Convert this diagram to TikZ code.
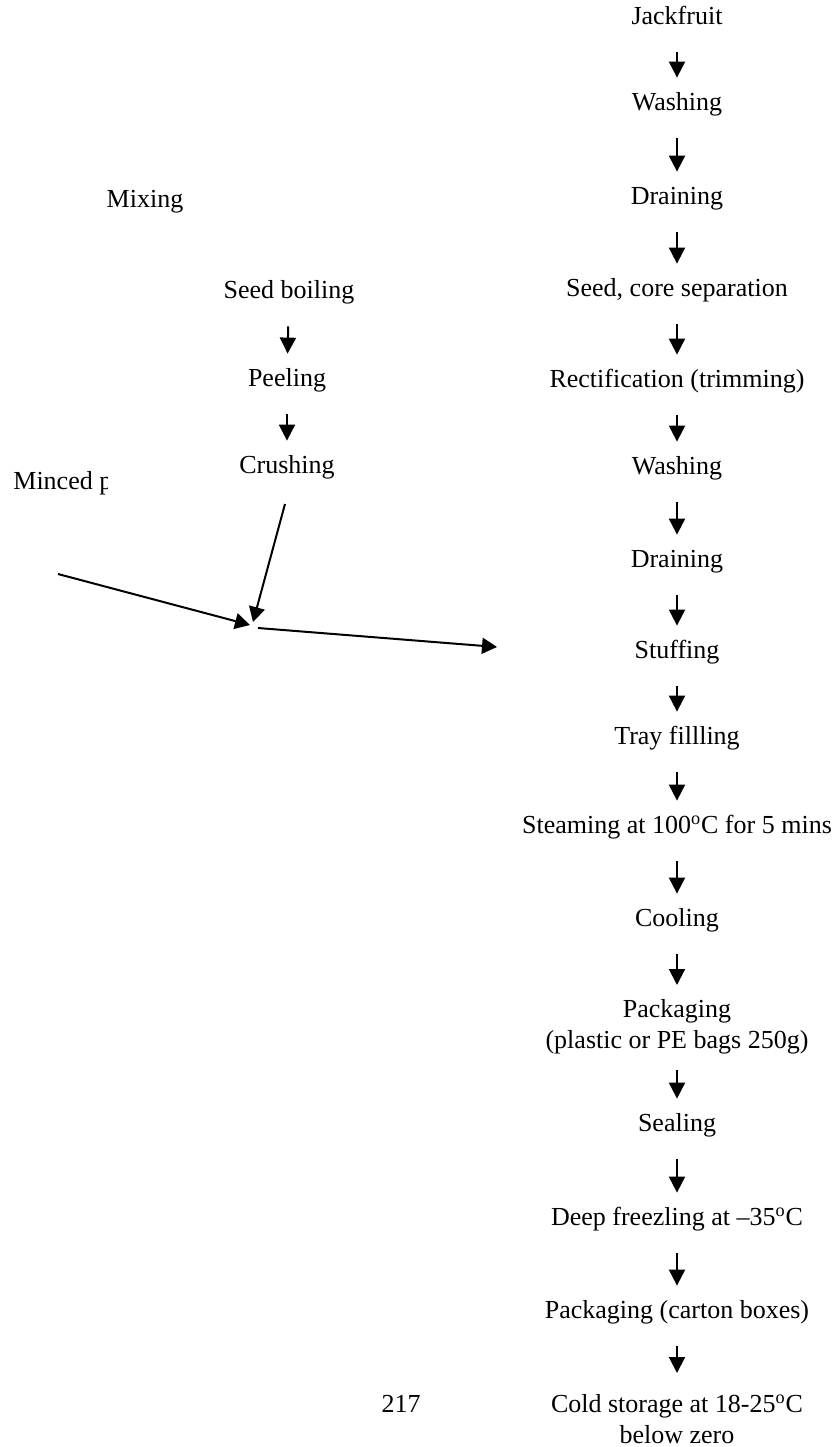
\documentclass[tikz,border=0pt]{standalone}
\usepackage{fontspec}
\setmainfont{Liberation Serif}
\usetikzlibrary{arrows.meta, positioning}

\begin{document}
\begin{tikzpicture}[x=0.5pt, y=-0.5pt,
  stage/.style={inner sep=0pt, font=\rmfamily\fontsize{13}{15.5}\selectfont, text height=9pt, text depth=3pt},
  stagetwo/.style={inner sep=0pt, font=\rmfamily\fontsize{13}{15.5}\selectfont, align=center},
  stagearrow/.style={-{Triangle[length=8pt, width=8pt]}, line width=1pt, shorten <=11pt, shorten >=7pt},
  feedarrow/.style={-{Triangle[length=7.5pt, width=8pt]}, line width=1pt}]
  \useasboundingbox (0,0) rectangle (839,1447);

  % main line
  \node[stage] (jack) at (677,18) {Jackfruit};
  \node[stage] (wash) at (677,104) {Washing};
  \node[stage] (drain) at (677,198) {Draining};
  \node[stage] (seedsep) at (677,290) {Seed, core separation};
  \node[stage] (rect) at (677,381) {Rectification (trimming)};
  \node[stage] (washtwo) at (677,468) {Washing};
  \node[stage] (draintwo) at (677,561) {Draining};
  \node[stage] (stuff) at (677,652) {Stuffing};
  \node[stage] (tray) at (677,738) {Tray fillling};
  \node[stage] (steam) at (677,827) {Steaming at 100\textsuperscript{o}C for 5 mins};
  \node[stage] (cool) at (677,920) {Cooling};
  \node[stagetwo, anchor=north] (pack) at (677,999) {Packaging\\(plastic or PE bags 250g)};
  \node[stage] (seal) at (677,1125) {Sealing};
  \node[stage] (freeze) at (677,1219) {Deep freezling at –35\textsuperscript{o}C};
  \node[stage] (carton) at (677,1312) {Packaging (carton boxes)};
  \node[stagetwo, anchor=north] (cold) at (677,1394) {Cold storage at 18-25\textsuperscript{o}C\\below zero};

  \draw[stagearrow] (jack) -- (wash);
  \draw[stagearrow] (wash) -- (drain);
  \draw[stagearrow] (drain) -- (seedsep);
  \draw[stagearrow] (seedsep) -- (rect);
  \draw[stagearrow] (rect) -- (washtwo);
  \draw[stagearrow] (washtwo) -- (draintwo);
  \draw[stagearrow] (draintwo) -- (stuff);
  \draw[stagearrow] (stuff) -- (tray);
  \draw[stagearrow] (tray) -- (steam);
  \draw[stagearrow] (steam) -- (cool);
  \draw[stagearrow] (cool) -- (pack);
  \draw[stagearrow, shorten <=8pt] (pack) -- (seal);
  \draw[stagearrow] (seal) -- (freeze);
  \draw[stagearrow] (freeze) -- (carton);
  \draw[stagearrow, shorten >=10.5pt] (carton) -- (cold);

  % seed side line
  \node[stage] (mix) at (145,201) {Mixing};
  \node[stage] (seedboil) at (289,292) {Seed boiling};
  \node[stage] (peel) at (287,380) {Peeling};
  \node[stage] (crush) at (287,467) {Crushing};
  \draw[stagearrow] (seedboil) -- (peel);
  \draw[stagearrow] (peel) -- (crush);

  \begin{scope}
    \clip (0,450) rectangle (107,520);
    \node[stage, anchor=west] (mince) at (13,483) {Minced p};
  \end{scope}

  % feeds into stuffing
  \coordinate (mincetail) at (58,574);
  \coordinate (crushtail) at (285,504);
  \coordinate (meetleft) at (250,625);
  \coordinate (meettop) at (253,622);
  \coordinate (meetout) at (258,628);
  \coordinate (feedtip) at (497,647);
  \draw[feedarrow] (mincetail) -- (meetleft);
  \draw[feedarrow] (crushtail) -- (meettop);
  \draw[feedarrow] (meetout) -- (feedtip);

  \node[stage] (page) at (401,1406) {217};
\end{tikzpicture}
\end{document}
